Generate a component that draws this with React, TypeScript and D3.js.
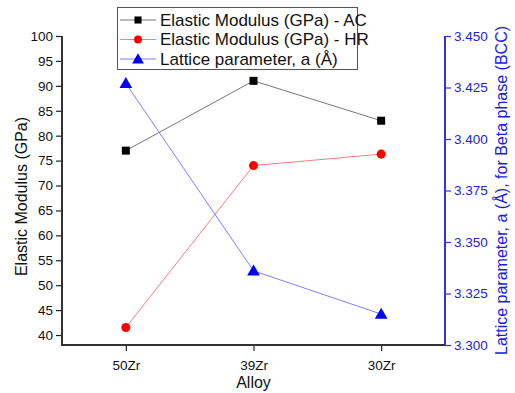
import { useRef, useEffect } from 'react';
import * as d3 from 'd3';

const alloys = ['50Zr', '39Zr', '30Zr'];
const modulusAC = [77, 91, 83];
const modulusHR = [41.5, 74, 76.3];
const latticeA = [3.427, 3.336, 3.315];

const leftTicks = [40, 45, 50, 55, 60, 65, 70, 75, 80, 85, 90, 95, 100];
const rightTicks = [3.3, 3.325, 3.35, 3.375, 3.4, 3.425, 3.45];

const legendItems = [
  { label: 'Elastic Modulus (GPa) - AC', line: '#777777', fill: '#000000', shape: 'square' },
  { label: 'Elastic Modulus (GPa) - HR', line: '#f08080', fill: '#ff0000', shape: 'circle' },
  { label: 'Lattice parameter, a (Å)', line: '#7f7fff', fill: '#0000ff', shape: 'triangle' },
];

const W = 515;
const H = 393;
const FONT = '"Liberation Sans", Arial, sans-serif';

const App = () => {
  const svgRef = useRef<SVGSVGElement>(null);

  useEffect(() => {
    const svg = d3.select(svgRef.current);
    svg.selectAll('*').remove();

    const left = 62, right = 445, top = 36, bottom = 345;

    const x = d3.scaleLinear().domain([0.5, 3.5]).range([left, right]);
    const yL = d3.scaleLinear().domain([38, 100]).range([bottom, top]);
    const yR = d3.scaleLinear().domain([3.3, 3.45]).range([bottom, top]);

    svg.append('rect').attr('width', W).attr('height', H).attr('fill', '#fff');

    // left axis
    const gL = svg.append('g').attr('transform', `translate(${left},0)`);
    gL.call(d3.axisLeft(yL).tickValues(d3.range(40, 100.1, 2.5)).tickSize(3).tickFormat(() => ''));
    gL.call(d3.axisLeft(yL).tickValues(leftTicks).tickSize(6).tickPadding(3).tickFormat(d3.format('d')) as any);
    gL.selectAll('.domain').remove();
    gL.selectAll('line').attr('stroke', '#222').attr('stroke-width', 1.2);
    gL.selectAll('text').attr('font-family', FONT).attr('font-size', 13.5).attr('fill', '#111');
    gL.append('line').attr('y1', top).attr('y2', bottom + 1).attr('stroke', '#333').attr('stroke-width', 2);

    // right axis
    const gR = svg.append('g').attr('transform', `translate(${right},0)`);
    gR.call(d3.axisRight(yR).tickValues(d3.range(3.3, 3.4501, 0.0125)).tickSize(3).tickFormat(() => ''));
    gR.call(d3.axisRight(yR).tickValues(rightTicks).tickSize(6).tickPadding(3).tickFormat(d3.format('.3f')) as any);
    gR.selectAll('.domain').remove();
    gR.selectAll('line').attr('stroke', '#3333ee').attr('stroke-width', 1.2);
    gR.selectAll('text').attr('font-family', FONT).attr('font-size', 13.5).attr('fill', '#2222dd');
    gR.append('line').attr('y1', top).attr('y2', bottom + 1).attr('stroke', '#3333ee').attr('stroke-width', 2);

    // bottom axis
    const gB = svg.append('g').attr('transform', `translate(0,${bottom})`);
    gB.call(d3.axisBottom(x).tickValues([1.5, 2.5]).tickSize(3).tickFormat(() => ''));
    gB.call(d3.axisBottom(x).tickValues([1, 2, 3]).tickSize(6).tickPadding(9)
      .tickFormat((d: any) => alloys[Math.round(d) - 1]) as any);
    gB.selectAll('.domain').remove();
    gB.selectAll('line').attr('stroke', '#222').attr('stroke-width', 1.2);
    gB.selectAll('text').attr('font-family', FONT).attr('font-size', 13.5).attr('fill', '#111');
    gB.append('line').attr('x1', left - 1).attr('x2', right).attr('stroke', '#333').attr('stroke-width', 2);

    // axis titles
    svg.append('text').attr('transform', `translate(27,${(top + bottom) / 2 + 6}) rotate(-90)`)
      .attr('text-anchor', 'middle').attr('font-family', FONT).attr('font-size', 16).attr('fill', '#111')
      .text('Elastic Modulus (GPa)');
    svg.append('text').attr('x', (left + right) / 2).attr('y', 388)
      .attr('text-anchor', 'middle').attr('font-family', FONT).attr('font-size', 16).attr('fill', '#111')
      .text('Alloy');
    svg.append('text').attr('transform', `translate(507,${(top + bottom) / 2}) rotate(-90)`)
      .attr('text-anchor', 'middle').attr('font-family', FONT).attr('font-size', 16).attr('fill', '#1a1ae6')
      .text('Lattice parameter, a (Å), for Beta phase (BCC)');

    const symbol = (shape: string, size: number) => {
      const type = shape === 'square' ? d3.symbolSquare : shape === 'circle' ? d3.symbolCircle : d3.symbolTriangle;
      return d3.symbol().type(type).size(size)()!;
    };

    const series = [
      { vals: modulusAC, y: yL, item: legendItems[0] },
      { vals: modulusHR, y: yL, item: legendItems[1] },
      { vals: latticeA, y: yR, item: legendItems[2] },
    ];

    series.forEach(({ vals, y, item }) => {
      const line = d3.line<number>().x((_d, i) => x(i + 1)).y(d => y(d));
      svg.append('path').attr('d', line(vals)).attr('fill', 'none')
        .attr('stroke', item.line).attr('stroke-width', 1);
      svg.selectAll(null).data(vals).join('path')
        .attr('transform', (d, i) => `translate(${x(i + 1)},${y(d) + (item.shape === 'triangle' ? 1 : 0)})`)
        .attr('d', symbol(item.shape, item.shape === 'triangle' ? 70 : 64))
        .attr('fill', item.fill);
    });

    // legend
    const lg = svg.append('g');
    lg.append('rect').attr('x', 117.5).attr('y', 7.5).attr('width', 240).attr('height', 62)
      .attr('fill', '#fff').attr('stroke', '#555').attr('stroke-width', 1);
    legendItems.forEach((item, i) => {
      const cy = 20 + i * 19.5;
      lg.append('line').attr('x1', 120).attr('x2', 156).attr('y1', cy).attr('y2', cy)
        .attr('stroke', item.line).attr('stroke-width', 1);
      lg.append('path').attr('transform', `translate(138,${cy + (item.shape === 'triangle' ? 1 : 0)})`)
        .attr('d', symbol(item.shape, item.shape === 'triangle' ? 60 : 50)).attr('fill', item.fill);
      lg.append('text').attr('x', 160).attr('y', cy).attr('dy', '0.35em')
        .attr('font-family', FONT).attr('font-size', 17).attr('fill', '#111').text(item.label);
    });
  }, []);

  return <svg ref={svgRef} width={W} height={H} style={{ position: 'absolute', left: 0, top: 0 }} />;
};

export default App;
